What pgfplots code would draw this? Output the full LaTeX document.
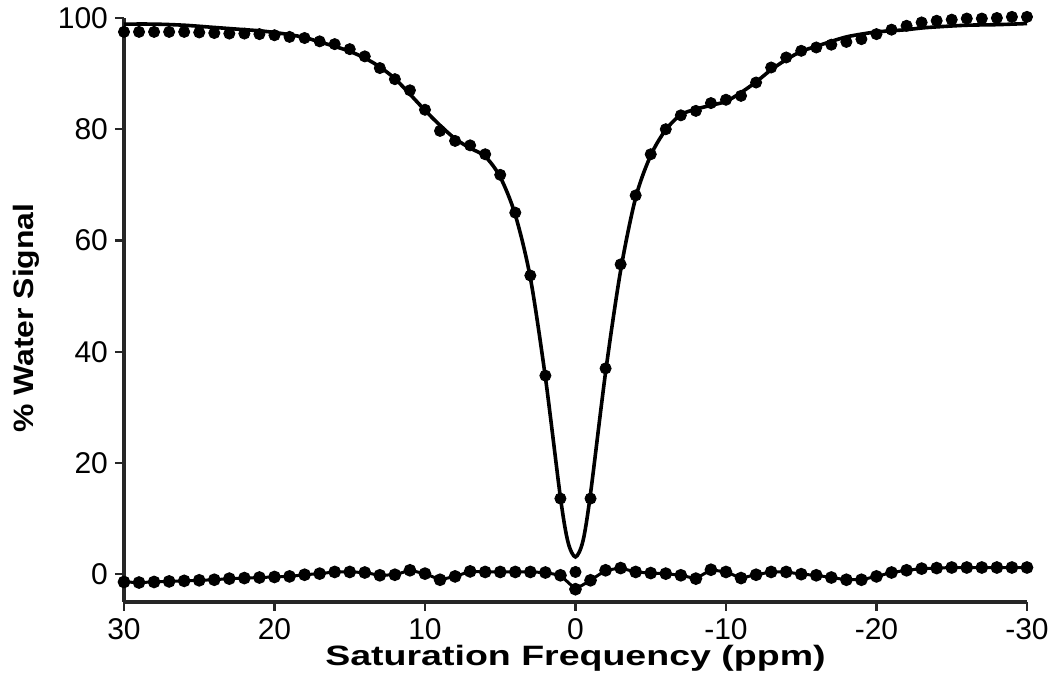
\documentclass[border=0pt]{standalone}
\usepackage{fontspec}
\setmainfont{Liberation Sans}
\usepackage{graphicx}
\usepackage{pgfplots}
\usepackage{pgfplotstable}
\pgfplotsset{compat=1.18}

% measured water signal and residual (data - fit), ppm
\pgfplotstableread{
ppm data resid
30 97.5 -1.4
29 97.5 -1.5
28 97.5 -1.4
27 97.5 -1.3
26 97.5 -1.2
25 97.4 -1.1
24 97.3 -1.0
23 97.2 -0.8
22 97.2 -0.7
21 97.1 -0.6
20 96.9 -0.5
19 96.6 -0.4
18 96.4 -0.1
17 95.8 0.1
16 95.3 0.4
15 94.4 0.4
14 93.1 0.3
13 91.0 -0.2
12 89.0 -0.1
11 87.0 0.7
10 83.5 0.1
9 79.7 -1.0
8 77.9 -0.4
7 77.1 0.5
6 75.5 0.4
5 71.8 0.4
4 65.0 0.4
3 53.7 0.4
2 35.7 0.3
1 13.6 -0.2
0 0.4 -2.7
-1 13.6 -1.1
-2 37.0 0.7
-3 55.7 1.1
-4 68.1 0.4
-5 75.5 0.2
-6 80.0 0.1
-7 82.5 -0.2
-8 83.3 -0.8
-9 84.7 0.8
-10 85.3 0.4
-11 86.0 -0.7
-12 88.4 -0.1
-13 91.1 0.4
-14 92.9 0.4
-15 94.1 0.0
-16 94.7 -0.2
-17 95.2 -0.6
-18 95.7 -1.0
-19 96.2 -1.0
-20 97.1 -0.4
-21 97.9 0.3
-22 98.6 0.7
-23 99.2 1.0
-24 99.5 1.1
-25 99.7 1.2
-26 99.9 1.2
-27 99.9 1.2
-28 100.0 1.2
-29 100.2 1.2
-30 100.2 1.2
}\zspec

% fitted curve
\pgfplotstableread{
ppm fit
30 98.9
28 98.9
26 98.7
24 98.3
22 97.9
21 97.7
20 97.4
19 97.0
18 96.5
17 95.7
16 94.9
15 94.0
14 92.8
13 91.2
12 89.1
11 86.3
10 83.4
9 80.7
8 78.3
7 76.6
6 75.1
5 71.4
4 64.6
3 53.3
2 35.4
1 13.8
0.5 5.8
0 3.1
-0.5 6.0
-1 14.5
-2 36.3
-3 54.6
-4 67.7
-5 75.3
-6 79.9
-7 82.6
-8 83.6
-9 84.3
-10 85.0
-11 86.6
-12 88.5
-13 90.7
-14 92.5
-15 94.0
-16 94.9
-17 95.8
-18 96.6
-19 97.1
-20 97.5
-21 97.7
-22 97.9
-23 98.2
-24 98.4
-26 98.7
-28 98.8
-30 99.0
}\zfit

\begin{document}
\begin{tikzpicture}
\path[use as bounding box] (-62pt,-49pt) rectangle (463pt,301pt);
\begin{axis}[
    at={(0,0)}, anchor=south west,
    scale only axis,
    width=451.5pt, height=292pt,
    xmin=-30, xmax=30, x dir=reverse,
    ymin=-5, ymax=100,
    xtick={-30,-20,...,30},
    ytick={0,20,...,100},
    axis x line*=bottom, axis y line*=left,
    axis line style={-, line width=2.2pt, black!85},
    tick align=outside,
    major tick length=4.5pt,
    tick style={line width=1.1pt, black!85},
    tick label style={font=\fontsize{15}{18}\selectfont,
        /pgf/number format/assume math mode=true},
    xlabel={\scalebox{1.34}[1]{\fontsize{14}{17}\selectfont\bfseries Saturation Frequency (ppm)}},
    ylabel={\scalebox{1.14}[1]{\fontsize{14}{17}\selectfont\bfseries \% Water Signal}},
    xlabel style={at={(axis description cs:0.5,0)}, anchor=center, yshift=-28pt},
    ylabel style={at={(axis description cs:0,0.486)}, anchor=center, yshift=49pt},
    clip=false,
]
\addplot[no marks, smooth, line width=1.8pt, black] table[x=ppm, y=fit] {\zfit};
\addplot[only marks, mark=*, mark size=2.8pt, black] table[x=ppm, y=data] {\zspec};
\addplot[line width=1.5pt, black, mark=*, mark size=2.4pt] table[x=ppm, y=resid] {\zspec};
\end{axis}
\end{tikzpicture}
\end{document}
